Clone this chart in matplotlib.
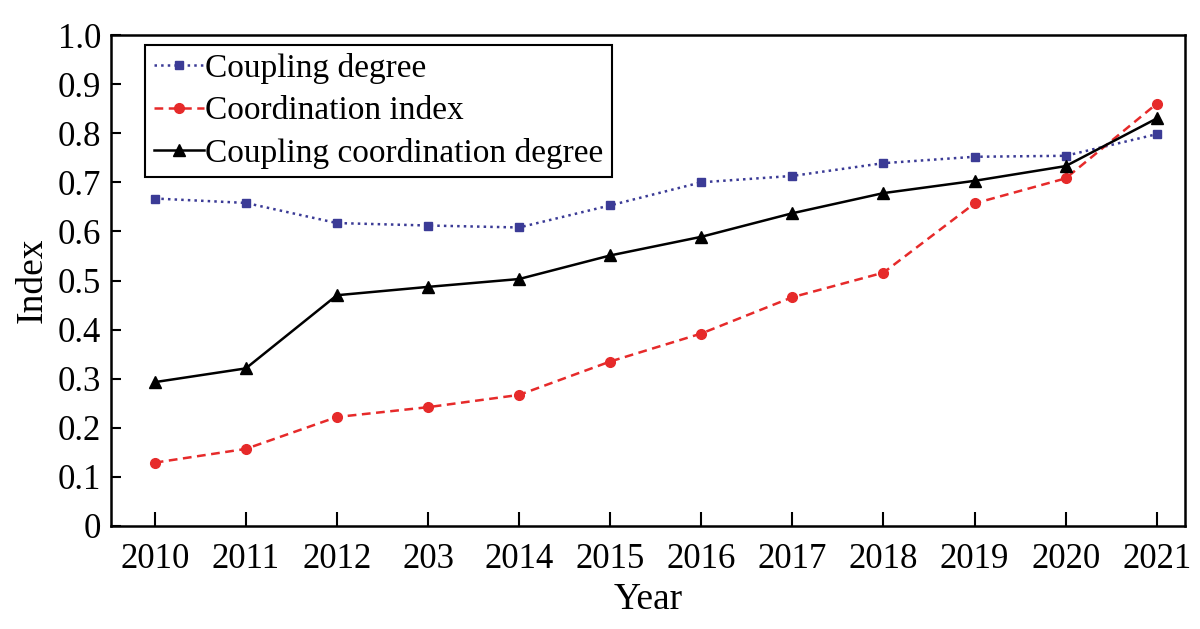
import numpy as np
import matplotlib
matplotlib.use('Agg')
from matplotlib import pyplot as plt

plt.rcParams['font.family'] = ['Liberation Serif', 'DejaVu Serif']

years = [2010, 2011, 2012, 2013, 2014, 2015, 2016, 2017, 2018, 2019, 2020, 2021]
year_labels = ['2010', '2011', '2012', '203', '2014', '2015', '2016', '2017', '2018', '2019', '2020', '2021']

coupling_degree = [0.667, 0.658, 0.617, 0.612, 0.608, 0.653, 0.700, 0.713, 0.739, 0.752, 0.754, 0.798]
coordination_index = [0.129, 0.157, 0.222, 0.242, 0.267, 0.335, 0.392, 0.466, 0.516, 0.657, 0.708, 0.860]
coupling_coord = [0.293, 0.321, 0.470, 0.487, 0.503, 0.551, 0.589, 0.637, 0.678, 0.703, 0.733, 0.830]

fig = plt.figure(figsize=(12, 6.29), dpi=100)
ax = fig.add_axes([111 / 1200, 1 - 526 / 629, (1185 - 111) / 1200, (526 - 35) / 629])

ax.plot(years, coupling_degree, color='#3b3b96', linestyle=':', linewidth=1.8,
        marker='s', markersize=5.5, label='Coupling degree')
ax.plot(years, coordination_index, color='#e62a2a', linestyle='--', linewidth=1.8,
        dashes=(3.5, 2.2), marker='o', markersize=7, label='Coordination index')
ax.plot(years, coupling_coord, color='black', linestyle='-', linewidth=1.8,
        marker='^', markersize=8, label='Coupling coordination degree')

ax.set_xlim(2009.52, 2021.31)
ax.set_ylim(0, 1.0)
ax.set_xticks(years)
ax.set_xticklabels(year_labels)
yt = np.round(np.arange(0, 1.01, 0.1), 1)
ax.set_yticks(yt)
ax.set_yticklabels(['0'] + ['%.1f' % v for v in yt[1:]])

ax.tick_params(direction='in', labelsize=25, width=1.5)
ax.tick_params(axis='x', length=10, pad=12)
ax.tick_params(axis='y', length=7, pad=7)
for s in ax.spines.values():
    s.set_linewidth(1.8)

ax.set_xlabel('Year', fontsize=27, labelpad=5)
ax.set_ylabel('Index', fontsize=27, labelpad=6)

leg = ax.legend(loc='upper left', bbox_to_anchor=(0.032, 0.98), fontsize=24,
                frameon=True, fancybox=False, edgecolor='black', framealpha=1,
                handlelength=1.5, handletextpad=0.05, borderpad=0.25,
                labelspacing=0.35, borderaxespad=0)
leg.get_frame().set_linewidth(1.5)

fig.savefig('out.png', dpi=100)
